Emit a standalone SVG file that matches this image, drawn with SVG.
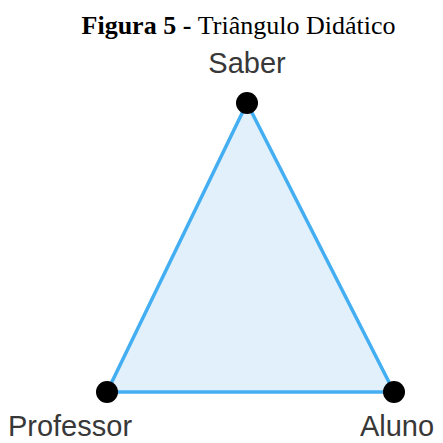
<svg xmlns="http://www.w3.org/2000/svg" width="443" height="443" viewBox="0 0 443 443">
<style>
.lbl{font-family:"Liberation Sans",Arial,sans-serif;font-size:29px;fill:#383838}
.t{font-family:"Liberation Serif","Times New Roman",serif;font-size:26px;fill:#000}
.dot{fill:#000}
</style>
<rect width="443" height="443" fill="#fff"/>
<text class="t" x="238.5" y="34" text-anchor="middle"><tspan font-weight="bold">Figura 5 - </tspan>Triângulo Didático</text>
<g id="edges">
<polygon points="247,103 107,392 394,392" fill="#e1f0fb" stroke="#44aef2" stroke-width="3.5" stroke-linejoin="round"/>
</g>
<g id="saber"><circle class="dot" cx="247" cy="103" r="11"/><text class="lbl" x="247" y="73" text-anchor="middle">Saber</text></g>
<g id="professor"><circle class="dot" cx="107" cy="392" r="11"/><text class="lbl" x="70" y="436" text-anchor="middle">Professor</text></g>
<g id="aluno"><circle class="dot" cx="394" cy="392" r="11"/><text class="lbl" x="397" y="436" text-anchor="middle">Aluno</text></g>
</svg>
